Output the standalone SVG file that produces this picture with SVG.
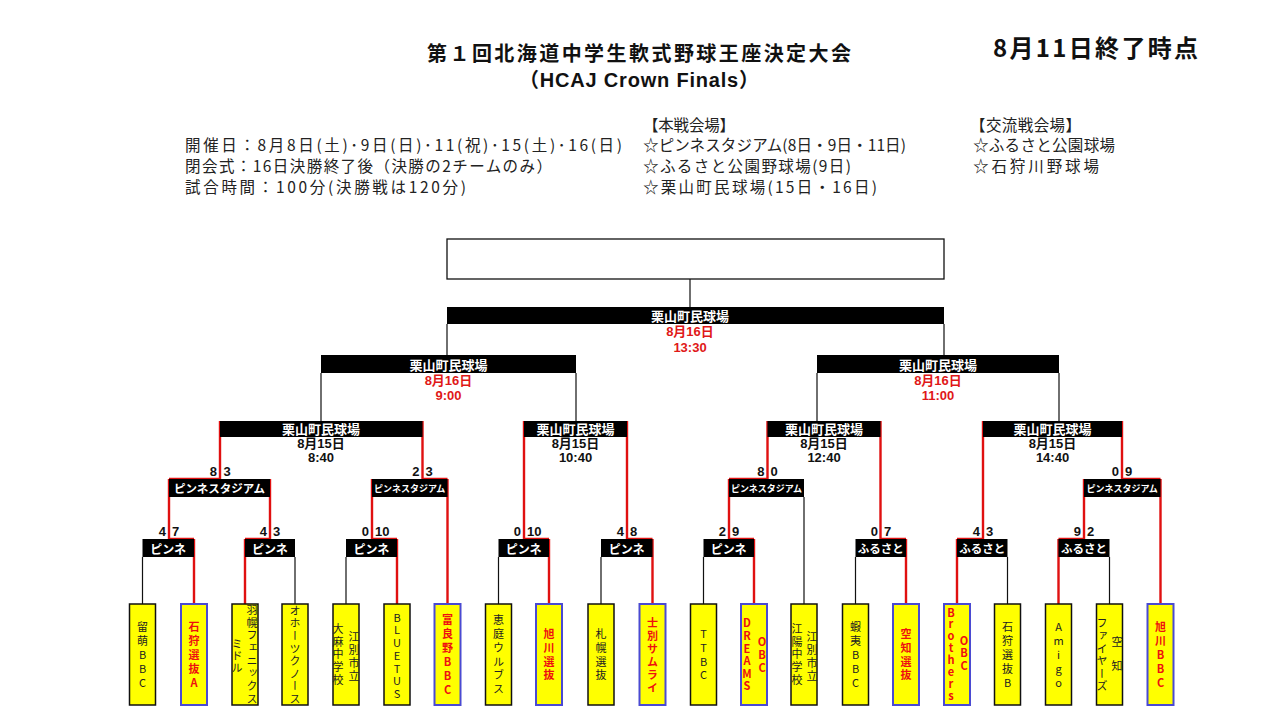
<svg xmlns="http://www.w3.org/2000/svg" width="1280" height="720" viewBox="0 0 1280 720">
<style>
text{font-family:"Noto Sans CJK JP","Noto Sans",sans-serif;dominant-baseline:central}
.bg{fill:#fff}
.title{font-size:20px;font-weight:bold;fill:#111;text-anchor:middle}
.sub{font-family:"Liberation Sans","Noto Sans CJK JP",sans-serif}
.stamp{font-size:24px;font-weight:bold;fill:#111}
.info{font-size:15.5px;fill:#222}
.hdr{fill:#000}
.ht{fill:#fff;font-weight:bold;text-anchor:middle}
.ln{stroke:#111;stroke-width:1.2;fill:none}
.rl{stroke:#e01010;stroke-width:2.4;fill:none}
.sc{font-family:"Liberation Sans","Noto Sans CJK JP",sans-serif;font-size:13px;font-weight:bold;fill:#111}
.scl{text-anchor:end}
.dt{font-family:"Liberation Sans","Noto Sans CJK JP",sans-serif;font-size:13px;font-weight:bold;text-anchor:middle;fill:#111}
.red{fill:#e01818}
.team{fill:#ffff00;stroke:#111;stroke-width:1.5}
.win{stroke:#4a4ad2;stroke-width:2}
.tt{font-size:11px;fill:#222;writing-mode:vertical-rl;text-orientation:upright;text-anchor:middle}
.tw{fill:#ee1010;font-weight:bold}
</style>
<rect class="bg" x="0" y="0" width="1280" height="720"/>

<g id="header">
<text class="title" x="639" y="52.5" textLength="424" lengthAdjust="spacing">第１回北海道中学生軟式野球王座決定大会</text>
<text class="title sub" x="639" y="79.5" textLength="240" lengthAdjust="spacing">（HCAJ Crown Finals）</text>
<text class="stamp" x="993" y="46" textLength="205" lengthAdjust="spacing">8月11日終了時点</text>
</g>

<g id="info">
<text class="info" x="185" y="144" textLength="437" lengthAdjust="spacing">開催日：8月8日(土)･9日(日)･11(祝)･15(土)･16(日)</text>
<text class="info" x="185" y="165" textLength="367" lengthAdjust="spacing">閉会式：16日決勝終了後（決勝の2チームのみ）</text>
<text class="info" x="185" y="186" textLength="281" lengthAdjust="spacing">試合時間：100分(決勝戦は120分)</text>
<text class="info" x="643" y="124" textLength="92" lengthAdjust="spacing">【本戦会場】</text>
<text class="info" x="643" y="144" textLength="263" lengthAdjust="spacing">☆ピンネスタジアム(8日・9日・11日)</text>
<text class="info" x="643" y="165" textLength="208" lengthAdjust="spacing">☆ふるさと公園野球場(9日)</text>
<text class="info" x="643" y="186" textLength="234" lengthAdjust="spacing">☆栗山町民球場(15日・16日)</text>
<text class="info" x="970" y="124" textLength="111" lengthAdjust="spacing">【交流戦会場】</text>
<text class="info" x="973" y="144" textLength="142" lengthAdjust="spacing">☆ふるさと公園球場</text>
<text class="info" x="973" y="165" textLength="126" lengthAdjust="spacing">☆石狩川野球場</text>
</g>

<g id="connectors">
<path class="ln" d="M690 279V307 M447 324V355 M944 324V355 M321 373V421 M576 373V421 M817 373V421 M1059 373V421 M142.5 557V604 M295 557V604 M346 557V604 M498.5 557V604 M601 557V604 M703.5 557V604 M855.5 557V604 M1007.5 557V604 M1109.5 557V604 M804 497V604"/>
<path class="rl" d="M194 539V604 M245 539V604 M397 539V604 M549 539V604 M652.5 539V604 M754 539V604 M906 539V604 M957 539V604 M1058.5 539V604 M169 479V539 M270 479V539 M372 479V539 M447.5 479V604 M729 479V539 M1084 479V539 M1160.5 479V604 M220 421V479 M422.5 421V479 M524 421V539 M627 421V539 M767.5 421V479 M880.5 421V539 M983 421V539 M1122 421V479"/>
<path class="rl" d="M169 539H194 M245 539H270 M372 539H397 M524 539H549 M627 539H652.5 M729 539H754 M880.5 539H906 M957 539H983 M1058.5 539H1084 M169 479H220 M422.5 479H447.5 M729 479H767.5 M1122 479H1160.5"/>
</g>

<g id="final">
<rect x="447" y="239" width="497" height="40" fill="#fff" stroke="#111" stroke-width="1.3"/>
<rect class="hdr" x="447" y="307" width="497" height="17"/>
<text class="ht" x="690" y="315.5" font-size="13">栗山町民球場</text>
<text class="dt red" x="690" y="331.5">8月16日</text>
<text class="dt red" x="690" y="347">13:30</text>
</g>

<g id="sf1">
<rect class="hdr" x="321" y="355" width="255" height="18"/>
<text class="ht" x="448.5" y="364" font-size="13">栗山町民球場</text>
<text class="dt red" x="448.5" y="380.5">8月16日</text>
<text class="dt red" x="448.5" y="395.5">9:00</text>
</g>
<g id="sf2">
<rect class="hdr" x="817" y="355" width="242" height="18"/>
<text class="ht" x="938" y="364" font-size="13">栗山町民球場</text>
<text class="dt red" x="938" y="380.5">8月16日</text>
<text class="dt red" x="938" y="395.5">11:00</text>
</g>

<g id="qf1">
<rect class="hdr" x="220" y="421" width="202.5" height="16"/>
<text class="ht" x="321" y="428.5" font-size="13">栗山町民球場</text>
<text class="dt" x="321" y="443.5">8月15日</text>
<text class="dt" x="321" y="457.5">8:40</text>
</g>
<g id="qf2">
<rect class="hdr" x="524" y="421" width="103" height="16"/>
<text class="ht" x="575.5" y="428.5" font-size="13">栗山町民球場</text>
<text class="dt" x="575.5" y="443.5">8月15日</text>
<text class="dt" x="575.5" y="457.5">10:40</text>
</g>
<g id="qf3">
<rect class="hdr" x="767.5" y="421" width="113" height="16"/>
<text class="ht" x="824" y="428.5" font-size="13">栗山町民球場</text>
<text class="dt" x="824" y="443.5">8月15日</text>
<text class="dt" x="824" y="457.5">12:40</text>
</g>
<g id="qf4">
<rect class="hdr" x="983" y="421" width="139" height="16"/>
<text class="ht" x="1052.5" y="428.5" font-size="13">栗山町民球場</text>
<text class="dt" x="1052.5" y="443.5">8月15日</text>
<text class="dt" x="1052.5" y="457.5">14:40</text>
</g>

<g id="r2a">
<rect class="hdr" x="169" y="479" width="101" height="18"/>
<text class="ht" x="219.5" y="488" font-size="11.5">ピンネスタジアム</text>
<text class="sc scl" x="217" y="471.5">8</text><text class="sc" x="223.5" y="471.5">3</text>
</g>
<g id="r2b">
<rect class="hdr" x="372" y="479" width="75.5" height="18"/>
<text class="ht" x="409.7" y="488" font-size="9">ピンネスタジアム</text>
<text class="sc scl" x="419.5" y="471.5">2</text><text class="sc" x="425.5" y="471.5">3</text>
</g>
<g id="r2c">
<rect class="hdr" x="729" y="479" width="75" height="18"/>
<text class="ht" x="766.5" y="488" font-size="9">ピンネスタジアム</text>
<text class="sc scl" x="764.5" y="471.5">8</text><text class="sc" x="770.5" y="471.5">0</text>
</g>
<g id="r2d">
<rect class="hdr" x="1084" y="479" width="76.5" height="18"/>
<text class="ht" x="1122.2" y="488" font-size="9">ピンネスタジアム</text>
<text class="sc scl" x="1119" y="471.5">0</text><text class="sc" x="1125" y="471.5">9</text>
</g>

<g id="r1a">
<rect class="hdr" x="142.5" y="539" width="51.5" height="18"/>
<text class="ht" x="168.2" y="548" font-size="12">ピンネ</text>
<text class="sc scl" x="166" y="531">4</text><text class="sc" x="172" y="531">7</text>
</g>
<g id="r1b">
<rect class="hdr" x="245" y="539" width="50" height="18"/>
<text class="ht" x="270" y="548" font-size="12">ピンネ</text>
<text class="sc scl" x="267" y="531">4</text><text class="sc" x="273" y="531">3</text>
</g>
<g id="r1c">
<rect class="hdr" x="346" y="539" width="51" height="18"/>
<text class="ht" x="371.5" y="548" font-size="12">ピンネ</text>
<text class="sc scl" x="369" y="531">0</text><text class="sc" x="375" y="531">10</text>
</g>
<g id="r1d">
<rect class="hdr" x="498.5" y="539" width="50.5" height="18"/>
<text class="ht" x="523.7" y="548" font-size="12">ピンネ</text>
<text class="sc scl" x="521" y="531">0</text><text class="sc" x="527" y="531">10</text>
</g>
<g id="r1e">
<rect class="hdr" x="601" y="539" width="51.5" height="18"/>
<text class="ht" x="626.7" y="548" font-size="12">ピンネ</text>
<text class="sc scl" x="624" y="531">4</text><text class="sc" x="630" y="531">8</text>
</g>
<g id="r1f">
<rect class="hdr" x="703.5" y="539" width="50.5" height="18"/>
<text class="ht" x="728.7" y="548" font-size="12">ピンネ</text>
<text class="sc scl" x="726" y="531">2</text><text class="sc" x="732" y="531">9</text>
</g>
<g id="r1g">
<rect class="hdr" x="855.5" y="539" width="50.5" height="18"/>
<text class="ht" x="880.7" y="548" font-size="11.5">ふるさと</text>
<text class="sc scl" x="878" y="531">0</text><text class="sc" x="884" y="531">7</text>
</g>
<g id="r1h">
<rect class="hdr" x="957" y="539" width="50.5" height="18"/>
<text class="ht" x="982.2" y="548" font-size="11.5">ふるさと</text>
<text class="sc scl" x="980" y="531">4</text><text class="sc" x="986" y="531">3</text>
</g>
<g id="r1i">
<rect class="hdr" x="1058.5" y="539" width="51" height="18"/>
<text class="ht" x="1084" y="548" font-size="11.5">ふるさと</text>
<text class="sc scl" x="1081" y="531">9</text><text class="sc" x="1087" y="531">2</text>
</g>

<g id="t01"><rect class="team" x="129.5" y="604" width="26" height="101"/><text class="tt" x="142.5" y="656" letter-spacing="3">留萌BBC</text></g>
<g id="t02"><rect class="team win" x="181" y="604" width="26" height="101"/><text class="tt tw" x="194" y="656" letter-spacing="3">石狩選抜A</text></g>
<g id="t03"><rect class="team" x="232" y="604" width="26" height="101"/><text class="tt" x="252" y="655" letter-spacing="1.7">羽幌フェニックス</text><text class="tt" x="237" y="656.5" letter-spacing="1">ミドル</text></g>
<g id="t04"><rect class="team" x="282" y="604" width="26" height="101"/><text class="tt" x="295" y="655.5" letter-spacing="1.6">オホーツクノース</text></g>
<g id="t05"><rect class="team" x="333" y="604" width="26" height="101"/><text class="tt" x="354" y="657.5" letter-spacing="2">江別市立</text><text class="tt" x="338" y="655" letter-spacing="1.7">大麻中学校</text></g>
<g id="t06"><rect class="team" x="384" y="604" width="26" height="101"/><text class="tt" x="397" y="656.5" letter-spacing="1.7">BLUETUS</text></g>
<g id="t07"><rect class="team win" x="434.5" y="604" width="26" height="101"/><text class="tt tw" x="447.5" y="656.5" letter-spacing="3">富良野BBC</text></g>
<g id="t08"><rect class="team" x="485.5" y="604" width="26" height="101"/><text class="tt" x="498.5" y="656" letter-spacing="2.8">恵庭ウルブス</text></g>
<g id="t09"><rect class="team win" x="536" y="604" width="26" height="101"/><text class="tt tw" x="549" y="656" letter-spacing="2.7">旭川選抜</text></g>
<g id="t10"><rect class="team" x="588" y="604" width="26" height="101"/><text class="tt" x="601" y="656" letter-spacing="2.7">札幌選抜</text></g>
<g id="t11"><rect class="team win" x="639.5" y="604" width="26" height="101"/><text class="tt tw" x="652.5" y="656" letter-spacing="2">士別サムライ</text></g>
<g id="t12"><rect class="team" x="690.5" y="604" width="26" height="101"/><text class="tt" x="703.5" y="656" letter-spacing="2.7">TTBC</text></g>
<g id="t13"><rect class="team win" x="741" y="604" width="26" height="101"/><text class="tt tw" x="747" y="655.5" letter-spacing="1.6">DREAMS</text><text class="tt tw" x="762" y="656" letter-spacing="2">OBC</text></g>
<g id="t14"><rect class="team" x="791" y="604" width="26" height="101"/><text class="tt" x="812" y="657.5" letter-spacing="2">江別市立</text><text class="tt" x="797" y="655" letter-spacing="1.7">江陽中学校</text></g>
<g id="t15"><rect class="team" x="842.5" y="604" width="26" height="101"/><text class="tt" x="855.5" y="656" letter-spacing="3">蝦夷BBC</text></g>
<g id="t16"><rect class="team win" x="893" y="604" width="26" height="101"/><text class="tt tw" x="906" y="656" letter-spacing="2.7">空知選抜</text></g>
<g id="t17"><rect class="team win" x="944" y="604" width="26" height="101"/><text class="tt tw" x="951" y="654.5" font-size="10" letter-spacing="0.9">Brothers</text><text class="tt tw" x="964" y="654" font-size="10" letter-spacing="1.5">OBC</text></g>
<g id="t18"><rect class="team" x="994.5" y="604" width="26" height="101"/><text class="tt" x="1007.5" y="656" letter-spacing="3">石狩選抜B</text></g>
<g id="t19"><rect class="team" x="1045.5" y="604" width="26" height="101"/><text class="tt" x="1058.5" y="656" letter-spacing="3">Amigo</text></g>
<g id="t20"><rect class="team" x="1096.5" y="604" width="26" height="101"/><text class="tt" x="1117" y="660" letter-spacing="13">空知</text><text class="tt" x="1102" y="655.5" letter-spacing="1.6">ファイヤーズ</text></g>
<g id="t21"><rect class="team win" x="1147.5" y="604" width="26" height="101"/><text class="tt tw" x="1160.5" y="656" letter-spacing="3">旭川BBC</text></g>
</svg>
